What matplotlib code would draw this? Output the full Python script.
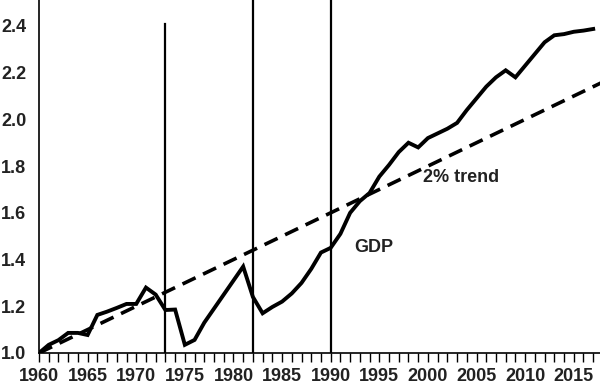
import matplotlib.pyplot as plt
from matplotlib.ticker import MultipleLocator

plt.rcParams['font.family'] = ['Liberation Sans', 'DejaVu Sans']

years = list(range(1960, 2018))
gdp = [1.00, 1.035, 1.055, 1.086, 1.086, 1.077, 1.163, 1.177, 1.193, 1.21,
       1.21, 1.28, 1.25, 1.184, 1.186, 1.035, 1.056, 1.13, 1.19, 1.25,
       1.31, 1.37, 1.24, 1.17, 1.197, 1.22, 1.255, 1.30, 1.36, 1.43,
       1.45, 1.51, 1.60, 1.65, 1.685, 1.755, 1.805, 1.86, 1.90, 1.88,
       1.92, 1.94, 1.96, 1.985, 2.04, 2.09, 2.14, 2.18, 2.21, 2.18,
       2.23, 2.28, 2.33, 2.36, 2.365, 2.375, 2.38, 2.387]
trend_years = [1960, 2018]
trend = [1.0, 2.16]
shock_years = [1973, 1982, 1990]
shock_tops = [2.41, 2.6, 2.6]

fig = plt.figure(figsize=(6, 3.86), dpi=100)
ax = fig.add_axes([0.065, 0.0855, 0.935, 0.9145])

ax.plot(years, gdp, color='black', lw=2.8, solid_joinstyle='miter')
ax.plot(trend_years, trend, color='black', lw=2.6, dashes=(4, 2.3))
for yr, top in zip(shock_years, shock_tops):
    ax.plot([yr, yr], [1.0, top], color='black', lw=1.6)

ax.text(1999.5, 1.75, '2% trend', fontsize=13, fontweight='bold', va='center',
        color='#222222')
ax.text(1992.4, 1.45, 'GDP', fontsize=13, fontweight='bold', va='center',
        color='#222222')

ax.set_xlim(1960, 2017.7)
ax.set_ylim(1.0, 2.511)
ax.xaxis.set_major_locator(MultipleLocator(5))
ax.xaxis.set_minor_locator(MultipleLocator(1))
ax.set_yticks([1.0, 1.2, 1.4, 1.6, 1.8, 2.0, 2.2, 2.4])
ax.yaxis.set_major_formatter(plt.FormatStrFormatter('%.1f'))
ax.tick_params(axis='x', which='both', length=6.5, width=1, direction='out',
               labelsize=13, pad=4.5, labelcolor='#222222')
ax.tick_params(axis='y', length=0, labelsize=13, pad=9, labelcolor='#222222')
for lab in ax.get_xticklabels() + ax.get_yticklabels():
    lab.set_fontweight('bold')
ax.spines['top'].set_visible(False)
ax.spines['right'].set_visible(False)
ax.spines['left'].set_linewidth(1.2)
ax.spines['bottom'].set_linewidth(1.2)

fig.savefig('out.png', dpi=100)
